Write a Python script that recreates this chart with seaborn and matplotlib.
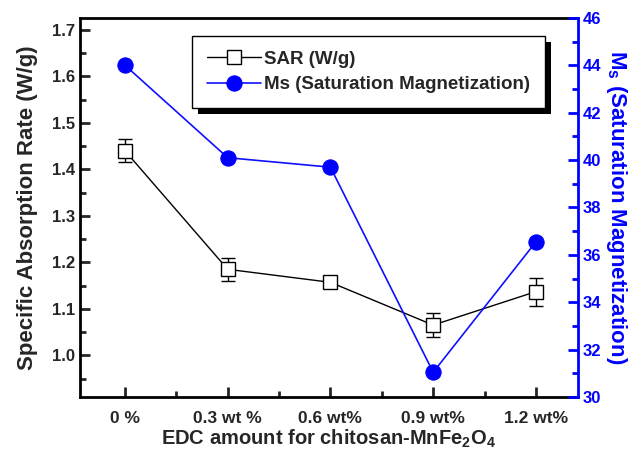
import numpy as np
import pandas as pd
import matplotlib
matplotlib.use('Agg')
import matplotlib.pyplot as plt
import matplotlib.patches as mpatches
import matplotlib.transforms as mtransforms
import seaborn as sns
from matplotlib.ticker import MultipleLocator

# data
edc_labels = ['0 %', '0.3 wt %', '0.6 wt%', '0.9 wt%', '1.2 wt%']
sar = [1.44, 1.185, 1.157, 1.065, 1.137]
sar_err = [0.025, 0.025, 0.01, 0.025, 0.03]
ms = [44.0, 40.1, 39.7, 31.05, 36.55]

df = pd.DataFrame({'pos': np.arange(len(edc_labels)), 'SAR': sar, 'err': sar_err, 'Ms': ms})

sns.set_style('ticks')
plt.rcParams['font.family'] = ['Liberation Sans', 'DejaVu Sans']
plt.rcParams['font.weight'] = 'bold'
plt.rcParams['mathtext.default'] = 'regular'

blue = '#0000ff'
fig = plt.figure(figsize=(6.43, 4.57), dpi=100)
ax = fig.add_axes([0.124, 0.131, 0.775, 0.830])
ax2 = ax.twinx()

# SAR with error bars
ax.errorbar(df['pos'], df['SAR'], yerr=df['err'], fmt='none', ecolor='black',
            elinewidth=1, capsize=5, capthick=1, zorder=2)
sns.lineplot(data=df, x='pos', y='SAR', ax=ax, color='black', lw=1,
             marker='s', markersize=9.5, markerfacecolor='white',
             markeredgecolor='black', markeredgewidth=1, zorder=3,
             label='SAR (W/g)', legend=False)

sns.lineplot(data=df, x='pos', y='Ms', ax=ax2, color='#1010ff', lw=1.2,
             marker='o', markersize=11, markerfacecolor=blue,
             markeredgecolor=blue, zorder=3,
             label='Ms (Saturation Magnetization)', legend=False)

ax.set_xlim(-0.44, 4.41)
ax.set_ylim(0.91, 1.726)
ax2.set_ylim(30, 46)

ax.set_xticks(df['pos'])
ax.set_xticklabels(edc_labels, fontsize=12.5, fontweight='bold')
ax.xaxis.set_minor_locator(MultipleLocator(0.5))
ax.yaxis.set_minor_locator(MultipleLocator(0.05))
yt = np.round(np.arange(1.0, 1.75, 0.1), 1)
ax.set_yticks(yt)
ax.set_yticklabels(['%.1f' % v for v in yt], fontsize=12, fontweight='bold')
ax2.yaxis.set_major_locator(MultipleLocator(2))
ax2.yaxis.set_minor_locator(MultipleLocator(1))
for t in ax2.get_yticklabels():
    t.set_fontsize(12)
    t.set_fontweight('bold')

ax.tick_params(which='both', direction='in', width=2, top=False)
ax.tick_params(which='major', length=7)
ax.tick_params(which='minor', length=4)
ax.tick_params(axis='x', which='major', pad=10)
ax2.tick_params(which='both', direction='in', width=2, colors=blue)
ax2.tick_params(which='major', length=7)
ax2.tick_params(which='minor', length=4)

for s in ['left', 'bottom', 'top']:
    ax.spines[s].set_linewidth(2)
    ax.spines[s].set_color('black')
    ax2.spines[s].set_visible(False)
ax2.spines['right'].set_linewidth(2)
ax2.spines['right'].set_color(blue)
ax.spines['right'].set_visible(False)

ax.set_xlabel('EDC amount for chitosan-MnFe$_2$O$_4$', fontsize=14.5, fontweight='bold', labelpad=1)
ax.set_ylabel('Specific Absorption Rate (W/g)', fontsize=16, fontweight='bold', labelpad=10)
ax2.set_ylabel('M$_s$ (Saturation Magnetization)', fontsize=16, fontweight='bold',
               color=blue, rotation=270, labelpad=20)

h1, l1 = ax.get_legend_handles_labels()
h2, l2 = ax2.get_legend_handles_labels()
leg = ax2.legend(h1 + h2, l1 + l2, loc='upper right', bbox_to_anchor=(0.934, 0.953),
                 fancybox=False, frameon=True, edgecolor='black', framealpha=1,
                 handlelength=2.9, handletextpad=0.15, borderpad=0.8,
                 borderaxespad=0, labelspacing=0.45,
                 prop={'size': 13.5, 'weight': 'bold'})
leg.get_frame().set_linewidth(1)
leg.set_zorder(6)

# heavy black drop shadow behind the legend box
fig.canvas.draw()
bb = leg.get_frame().get_window_extent()
shadow = mpatches.Rectangle((bb.x0 + 6, bb.y0 - 6), bb.width, bb.height,
                            transform=mtransforms.IdentityTransform(),
                            facecolor='black', edgecolor='none', zorder=5)
ax2.add_artist(shadow)

fig.savefig('out.png', dpi=100)
